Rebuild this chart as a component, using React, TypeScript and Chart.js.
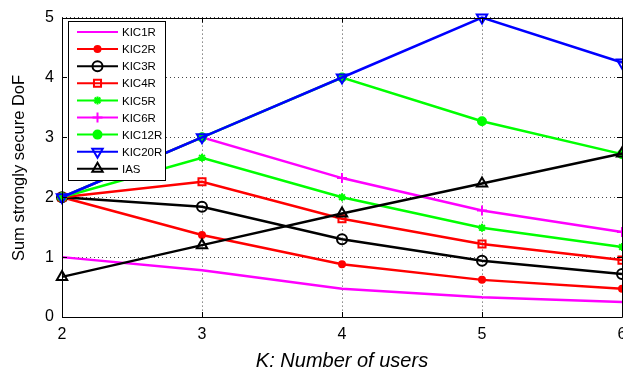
import React, { useEffect, useRef } from "react";
import { Chart, registerables } from "chart.js";
import { drawPoint } from "chart.js/helpers";

Chart.register(...registerables);

const usersK = [2, 3, 4, 5, 6];
const seriesNames = ["KIC1R", "KIC2R", "KIC3R", "KIC4R", "KIC5R", "KIC6R", "KIC12R", "KIC20R", "IAS"];
const kic1r = [1.0, 0.78, 0.47, 0.33, 0.25];
const kic2r = [2.0, 1.37, 0.88, 0.62, 0.47];
const kic3r = [2.0, 1.84, 1.3, 0.94, 0.72];
const kic4r = [2.0, 2.26, 1.64, 1.22, 0.95];
const kic5r = [2.0, 2.66, 2.0, 1.49, 1.17];
const kic6r = [2.0, 3.0, 2.32, 1.78, 1.42];
const kic12r = [2.0, 3.0, 4.0, 3.27, 2.72];
const kic20r = [2.0, 3.0, 4.0, 5.0, 4.25];
const ias = [0.67, 1.2, 1.73, 2.23, 2.73];
const yTicks = [0, 1, 2, 3, 4, 5];
const xTicks = [2, 3, 4, 5, 6];
const xTitle = "K: Number of users";
const yTitle = "Sum strongly secure DoF";

const FONT = "'Liberation Sans', Arial, sans-serif";

type Style = { color: string; pointStyle: any; radius: number; filled: boolean; rotation?: number };
const styles: Style[] = [
  { color: "#ff00ff", pointStyle: false, radius: 0, filled: false },
  { color: "#ff0000", pointStyle: "circle", radius: 3, filled: true },
  { color: "#000000", pointStyle: "circle", radius: 5, filled: false },
  { color: "#ff0000", pointStyle: "rect", radius: 5, filled: false },
  { color: "#00ff00", pointStyle: "star", radius: 4, filled: false },
  { color: "#ff00ff", pointStyle: "cross", radius: 5, filled: false },
  { color: "#00ff00", pointStyle: "circle", radius: 4, filled: true },
  { color: "#0000ff", pointStyle: "triangle", radius: 6, filled: false, rotation: 180 },
  { color: "#000000", pointStyle: "triangle", radius: 6, filled: false },
];
const allData = [kic1r, kic2r, kic3r, kic4r, kic5r, kic6r, kic12r, kic20r, ias];

const framePlugin = {
  id: "frame",
  afterDatasetsDraw(chart: any) {
    const { ctx, chartArea: a, scales } = chart;
    ctx.save();
    ctx.strokeStyle = "#000";
    ctx.lineWidth = 1;
    ctx.beginPath();
    ctx.rect(Math.round(a.left) + 0.5, Math.round(a.top) + 0.5, Math.round(a.right - a.left), Math.round(a.bottom - a.top));
    ctx.stroke();
    const t = 5;
    ctx.beginPath();
    for (const v of xTicks) {
      const x = Math.round(scales.x.getPixelForValue(v)) + 0.5;
      ctx.moveTo(x, a.bottom);
      ctx.lineTo(x, a.bottom - t);
      ctx.moveTo(x, a.top);
      ctx.lineTo(x, a.top + t);
    }
    for (const v of yTicks) {
      const y = Math.round(scales.y.getPixelForValue(v)) + 0.5;
      ctx.moveTo(a.left, y);
      ctx.lineTo(a.left + t, y);
      ctx.moveTo(a.right, y);
      ctx.lineTo(a.right - t, y);
    }
    ctx.stroke();

    // axis titles
    ctx.fillStyle = "#000";
    ctx.textAlign = "center";
    ctx.textBaseline = "middle";
    ctx.font = `italic 20px ${FONT}`;
    ctx.fillText(xTitle, (a.left + a.right) / 2, 361);
    ctx.save();
    ctx.translate(19, 168);
    ctx.rotate(-Math.PI / 2);
    ctx.font = `16.5px ${FONT}`;
    ctx.fillText(yTitle, 0, 0);
    ctx.restore();

    // legend
    const lx = Math.round(a.left) + 6;
    const ly = Math.round(a.top) + 3;
    const lw = 97;
    const lh = 159;
    ctx.fillStyle = "#fff";
    ctx.fillRect(lx, ly, lw, lh);
    ctx.strokeStyle = "#000";
    ctx.lineWidth = 1;
    ctx.strokeRect(lx + 0.5, ly + 0.5, lw, lh);
    ctx.font = `11.5px ${FONT}`;
    ctx.textBaseline = "middle";
    ctx.textAlign = "left";
    seriesNames.forEach((name, i) => {
      const y = ly + 11 + i * 17.1;
      const s = styles[i];
      const x0 = lx + 9;
      const x1 = lx + 50;
      ctx.strokeStyle = s.color;
      ctx.lineWidth = 2;
      ctx.beginPath();
      ctx.moveTo(x0, y);
      ctx.lineTo(x1, y);
      ctx.stroke();
      if (s.pointStyle) {
        ctx.lineWidth = 2;
        ctx.strokeStyle = s.color;
        ctx.fillStyle = s.filled ? s.color : "rgba(0,0,0,0)";
        drawPoint(ctx, { pointStyle: s.pointStyle, radius: s.radius, rotation: s.rotation || 0, borderWidth: 2 } as any, (x0 + x1) / 2, y);
      }
      ctx.fillStyle = "#000";
      ctx.fillText(name, lx + 54, y + 1);
    });
    ctx.restore();
  },
};

export default function App() {
  const ref = useRef<HTMLCanvasElement>(null);
  useEffect(() => {
    if (!ref.current) return;
    const datasets = allData.map((d, i) => {
      const s = styles[i];
      return {
        label: seriesNames[i],
        data: d.map((v, j) => ({ x: usersK[j], y: v })),
        borderColor: s.color,
        backgroundColor: s.filled ? s.color : "rgba(0,0,0,0)",
        borderWidth: 2.5,
        pointStyle: s.pointStyle,
        pointRadius: s.radius,
        pointRotation: s.rotation || 0,
        pointBorderWidth: 2,
        pointBorderColor: s.color,
        pointBackgroundColor: s.filled ? s.color : "rgba(0,0,0,0)",
        tension: 0,
        order: 9 - i,
        clip: 8,
      };
    });
    const chart = new Chart(ref.current, {
      type: "line",
      data: { datasets },
      plugins: [framePlugin],
      options: {
        animation: false,
        responsive: false,
        devicePixelRatio: 1,
        layout: { padding: { left: 0, right: 18, top: 17, bottom: 0 } },
        plugins: { legend: { display: false }, tooltip: { enabled: false } },
        scales: {
          x: {
            type: "linear",
            min: 2,
            max: 6,
            afterBuildTicks: (s: any) => { s.ticks = xTicks.map((v) => ({ value: v })); },
            afterFit: (s: any) => { s.height = 54; },
            ticks: { color: "#000", font: { family: FONT, size: 16 }, padding: 8, maxRotation: 0 },
            grid: { color: "#444", lineWidth: 1, drawTicks: false },
            border: { display: false, dash: [1, 3] },
            title: { display: false },
          },
          y: {
            min: 0,
            max: 5,
            afterBuildTicks: (s: any) => { s.ticks = yTicks.map((v) => ({ value: v })); },
            afterFit: (s: any) => { s.width = 62; },
            ticks: { color: "#000", font: { family: FONT, size: 16 }, padding: 8 },
            grid: { color: "#444", lineWidth: 1, drawTicks: false },
            border: { display: false, dash: [1, 3] },
            title: { display: false },
          },
        },
      },
    });
    return () => chart.destroy();
  }, []);
  return (
    <div style={{ position: "fixed", left: 0, top: 0, width: 640, height: 371, background: "#fff" }}>
      <canvas ref={ref} width={640} height={371} />
    </div>
  );
}
